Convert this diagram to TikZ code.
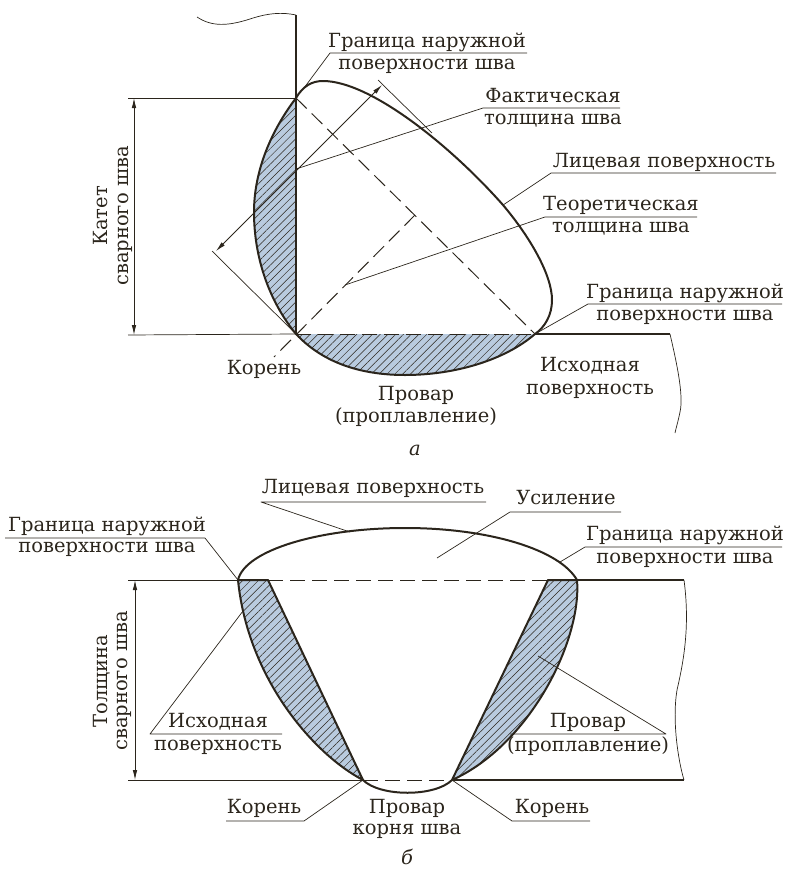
\documentclass[tikz,border=0pt]{standalone}
\usepackage{fontspec}
\setmainfont{DejaVu Serif}
\usepackage{xcolor}
\usetikzlibrary{arrows.meta,patterns.meta}
\definecolor{ink}{HTML}{2B251C}
\definecolor{hatchblue}{HTML}{B9CBDF}

\begin{document}
\begin{tikzpicture}[x=1pt,y=-1pt,line join=round]
\tikzstyle{every node} = [inner sep=0pt, text=ink, text height=14pt, text depth=3pt, font=\fontsize{19.5}{22}\selectfont]
\tikzstyle{wall} = [draw=ink, line width=2pt]
\tikzstyle{lead} = [draw=ink, line width=.7pt]
\tikzstyle{hidden} = [draw=ink, line width=1pt, dash pattern=on 15pt off 7pt]
\tikzstyle{dimline} = [draw=ink, line width=.8pt, {Latex[length=10pt,width=4.5pt]}-{Latex[length=10pt,width=4.5pt]}]
\tikzstyle{weld} = [preaction={fill=hatchblue}, pattern={Lines[angle=45,distance=5.5pt,line width=.5pt]}, pattern color=ink]
\useasboundingbox (0,0) rectangle (785,870);

% a
\coordinate (top1) at (296,98);
\coordinate (root1) at (296,334);
\coordinate (toe1) at (535,334);
\coordinate (wall1) at (296,15);
\coordinate (plate1) at (670,334);
\coordinate (face1) at (503,205);
\coordinate (mid1) at (415,215);
\fill[weld] (top1) .. controls (268,135) and (254,175) .. (254,212) .. controls (254,262) and (272,305) .. (root1) -- cycle;
\fill[weld] (root1) .. controls (325,365) and (365,375) .. (405,375) .. controls (455,375) and (505,360) .. (toe1) -- cycle;
\draw[hidden] (root1) -- (toe1);
\draw[hidden] (top1) -- (toe1);
\coordinate (rootend1) at (274,357);
\draw[hidden] (mid1) -- (rootend1);
\draw[wall] (wall1) -- (root1);
\draw[wall] (toe1) -- (plate1);
\draw[wall] (top1) .. controls (268,135) and (254,175) .. (254,212) .. controls (254,262) and (272,305) .. (root1)
  .. controls (325,365) and (365,375) .. (405,375) .. controls (455,375) and (505,360) .. (toe1);
\draw[wall] (top1) .. controls (303,86) and (312,81) .. (323,81) .. controls (370,81) and (450,145) .. (face1)
  .. controls (530,237) and (552,275) .. (552,300) .. controls (552,315) and (545,327) .. (toe1);
\draw[lead] (197,17) .. controls (212,27) and (228,26) .. (250,19) .. controls (268,13) and (282,12) .. (wall1);
\draw[lead] (plate1) .. controls (676,360) and (684,395) .. (680,412) .. controls (678,422) and (676,428) .. (675,433);

% a, dimension
\coordinate (ext1a) at (128,98);
\coordinate (ext1b) at (128,335);
\coordinate (dim1a) at (134,98);
\coordinate (dim1b) at (134,335);
\draw[lead] (ext1a) -- (top1);
\draw[lead] (ext1b) -- (root1);
\draw[dimline] (dim1a) -- (dim1b);
\node[rotate=90] (katet) at (102,216) {Катет};
\node[rotate=90] (svarnogo1) at (123,216) {сварного шва};

% a, thickness
\coordinate (tan1a) at (378,80);
\coordinate (tan1b) at (432,133);
\coordinate (tan2a) at (212,251);
\coordinate (arr1a) at (382,85);
\coordinate (arr1b) at (216,251);
\draw[lead] (tan1a) -- (tan1b);
\draw[lead] (tan2a) -- (root1);
\draw[dimline] (arr1a) -- (arr1b);

% a, labels
\node (gran1) at (427,42) {Граница наружной};
\node (pov1) at (427,64) {поверхности шва};
\coordinate (gran1a) at (330,53);
\coordinate (gran1b) at (527,53);
\coordinate (gran1c) at (304,88);
\draw[lead] (gran1c) -- (gran1a) -- (gran1b);
\node (fakt) at (553,97) {Фактическая};
\node (tol1) at (553,119) {толщина шва};
\coordinate (fakt1a) at (483,108);
\coordinate (fakt1b) at (620,108);
\coordinate (fakt1c) at (296,169);
\draw[lead] (fakt1c) -- (fakt1a) -- (fakt1b);
\node (lic1) at (664,162) {Лицевая поверхность};
\coordinate (lic1a) at (551,173);
\coordinate (lic1b) at (776,173);
\draw[lead] (face1) -- (lic1a) -- (lic1b);
\node (teor) at (621,205) {Теоретическая};
\node (tol2) at (621,227) {толщина шва};
\coordinate (teor1a) at (545,217);
\coordinate (teor1b) at (697,217);
\coordinate (teor1c) at (345,285);
\draw[lead] (teor1c) -- (teor1a) -- (teor1b);
\node (gran2) at (685,293) {Граница наружной};
\node (pov2) at (685,315) {поверхности шва};
\coordinate (gran2a) at (588,304);
\coordinate (gran2b) at (782,304);
\draw[lead] (toe1) -- (gran2a) -- (gran2b);
\node (kor1) at (264,369) {Корень};
\node (prov1) at (416,395) {Провар};
\node (prop1) at (416,417) {(проплавление)};
\node (ish1) at (590,366) {Исходная};
\node (ish1b) at (590,389) {поверхность};
\node (capa) at (415,450) {\itshape а};

% b
\coordinate (lt) at (238,580);
\coordinate (lm) at (268,580);
\coordinate (rm) at (548,580);
\coordinate (rt) at (577,580);
\coordinate (lb) at (363,780);
\coordinate (rb) at (452,780);
\coordinate (plate2a) at (684,580);
\coordinate (plate2b) at (684,780);
\fill[weld] (lt) -- (lm) -- (lb) .. controls (315,755) and (248,680) .. (lt) -- cycle;
\fill[weld] (rm) -- (rt) .. controls (582,640) and (530,745) .. (rb) -- cycle;
\draw[hidden] (lm) -- (rm);
\draw[hidden] (lb) -- (rb);
\draw[wall] (lt) -- (lm) -- (lb) .. controls (315,755) and (248,680) .. (lt);
\draw[wall] (rm) -- (rt) .. controls (582,640) and (530,745) .. (rb) -- cycle;
\draw[wall] (lb) .. controls (380,797) and (435,797) .. (rb);
\draw[wall] (lt) .. controls (245,550) and (320,528) .. (405,528) .. controls (490,528) and (560,550) .. (rt);
\draw[wall] (rt) -- (plate2a);
\draw[wall] (rb) -- (plate2b);
\draw[lead] (plate2a) .. controls (690,625) and (684,660) .. (677,690) .. controls (672,720) and (678,760) .. (plate2b);

% b, dimension
\coordinate (ext2a) at (128,580);
\coordinate (ext2b) at (128,780);
\coordinate (dim2a) at (135,580);
\coordinate (dim2b) at (135,780);
\draw[lead] (ext2a) -- (lt);
\draw[lead] (ext2b) -- (lb);
\draw[dimline] (dim2a) -- (dim2b);
\node[rotate=90] (tolsh) at (102,681) {Толщина};
\node[rotate=90] (svarnogo2) at (122,681) {сварного шва};

% b, labels
\node (lic2) at (373,488) {Лицевая поверхность};
\coordinate (lic2a) at (261,502);
\coordinate (lic2b) at (486,502);
\coordinate (lic2c) at (350,532);
\draw[lead] (lic2c) -- (lic2a) -- (lic2b);
\node (usil) at (566,499) {Усиление};
\coordinate (usil1a) at (510,512);
\coordinate (usil1b) at (621,512);
\coordinate (usil1c) at (437,558);
\draw[lead] (usil1c) -- (usil1a) -- (usil1b);
\node (gran3) at (685,535) {Граница наружной};
\node (pov3) at (685,558) {поверхности шва};
\coordinate (gran3a) at (585,547);
\coordinate (gran3b) at (782,547);
\coordinate (gran3c) at (560,562);
\draw[lead] (gran3c) -- (gran3a) -- (gran3b);
\node (gran4) at (107,526) {Граница наружной};
\node (pov4) at (107,547) {поверхности шва};
\coordinate (gran4a) at (205,538);
\coordinate (gran4b) at (5,538);
\draw[lead] (lt) -- (gran4a) -- (gran4b);
\node (ish2) at (218,722) {Исходная};
\node (ish2b) at (218,745) {поверхность};
\coordinate (ish2c) at (150,734);
\coordinate (ish2d) at (282,734);
\coordinate (ish2e) at (243,611);
\draw[lead] (ish2e) -- (ish2c) -- (ish2d);
\node (kor2) at (264,808) {Корень};
\coordinate (kor2a) at (304,821);
\coordinate (kor2b) at (226,821);
\draw[lead] (lb) -- (kor2a) -- (kor2b);
\node (kor3) at (552,808) {Корень};
\coordinate (kor3a) at (512,821);
\coordinate (kor3b) at (590,821);
\draw[lead] (rb) -- (kor3a) -- (kor3b);
\node (prov2) at (407,808) {Провар};
\node (korn) at (407,829) {корня шва};
\node (prov3) at (588,722) {Провар};
\node (prop3) at (588,746) {(проплавление)};
\coordinate (prov3a) at (666,734);
\coordinate (prov3b) at (510,734);
\coordinate (prov3c) at (538,656);
\draw[lead] (prov3c) -- (prov3a) -- (prov3b);
\node (capb) at (407,859) {\itshape б};
\end{tikzpicture}
\end{document}
